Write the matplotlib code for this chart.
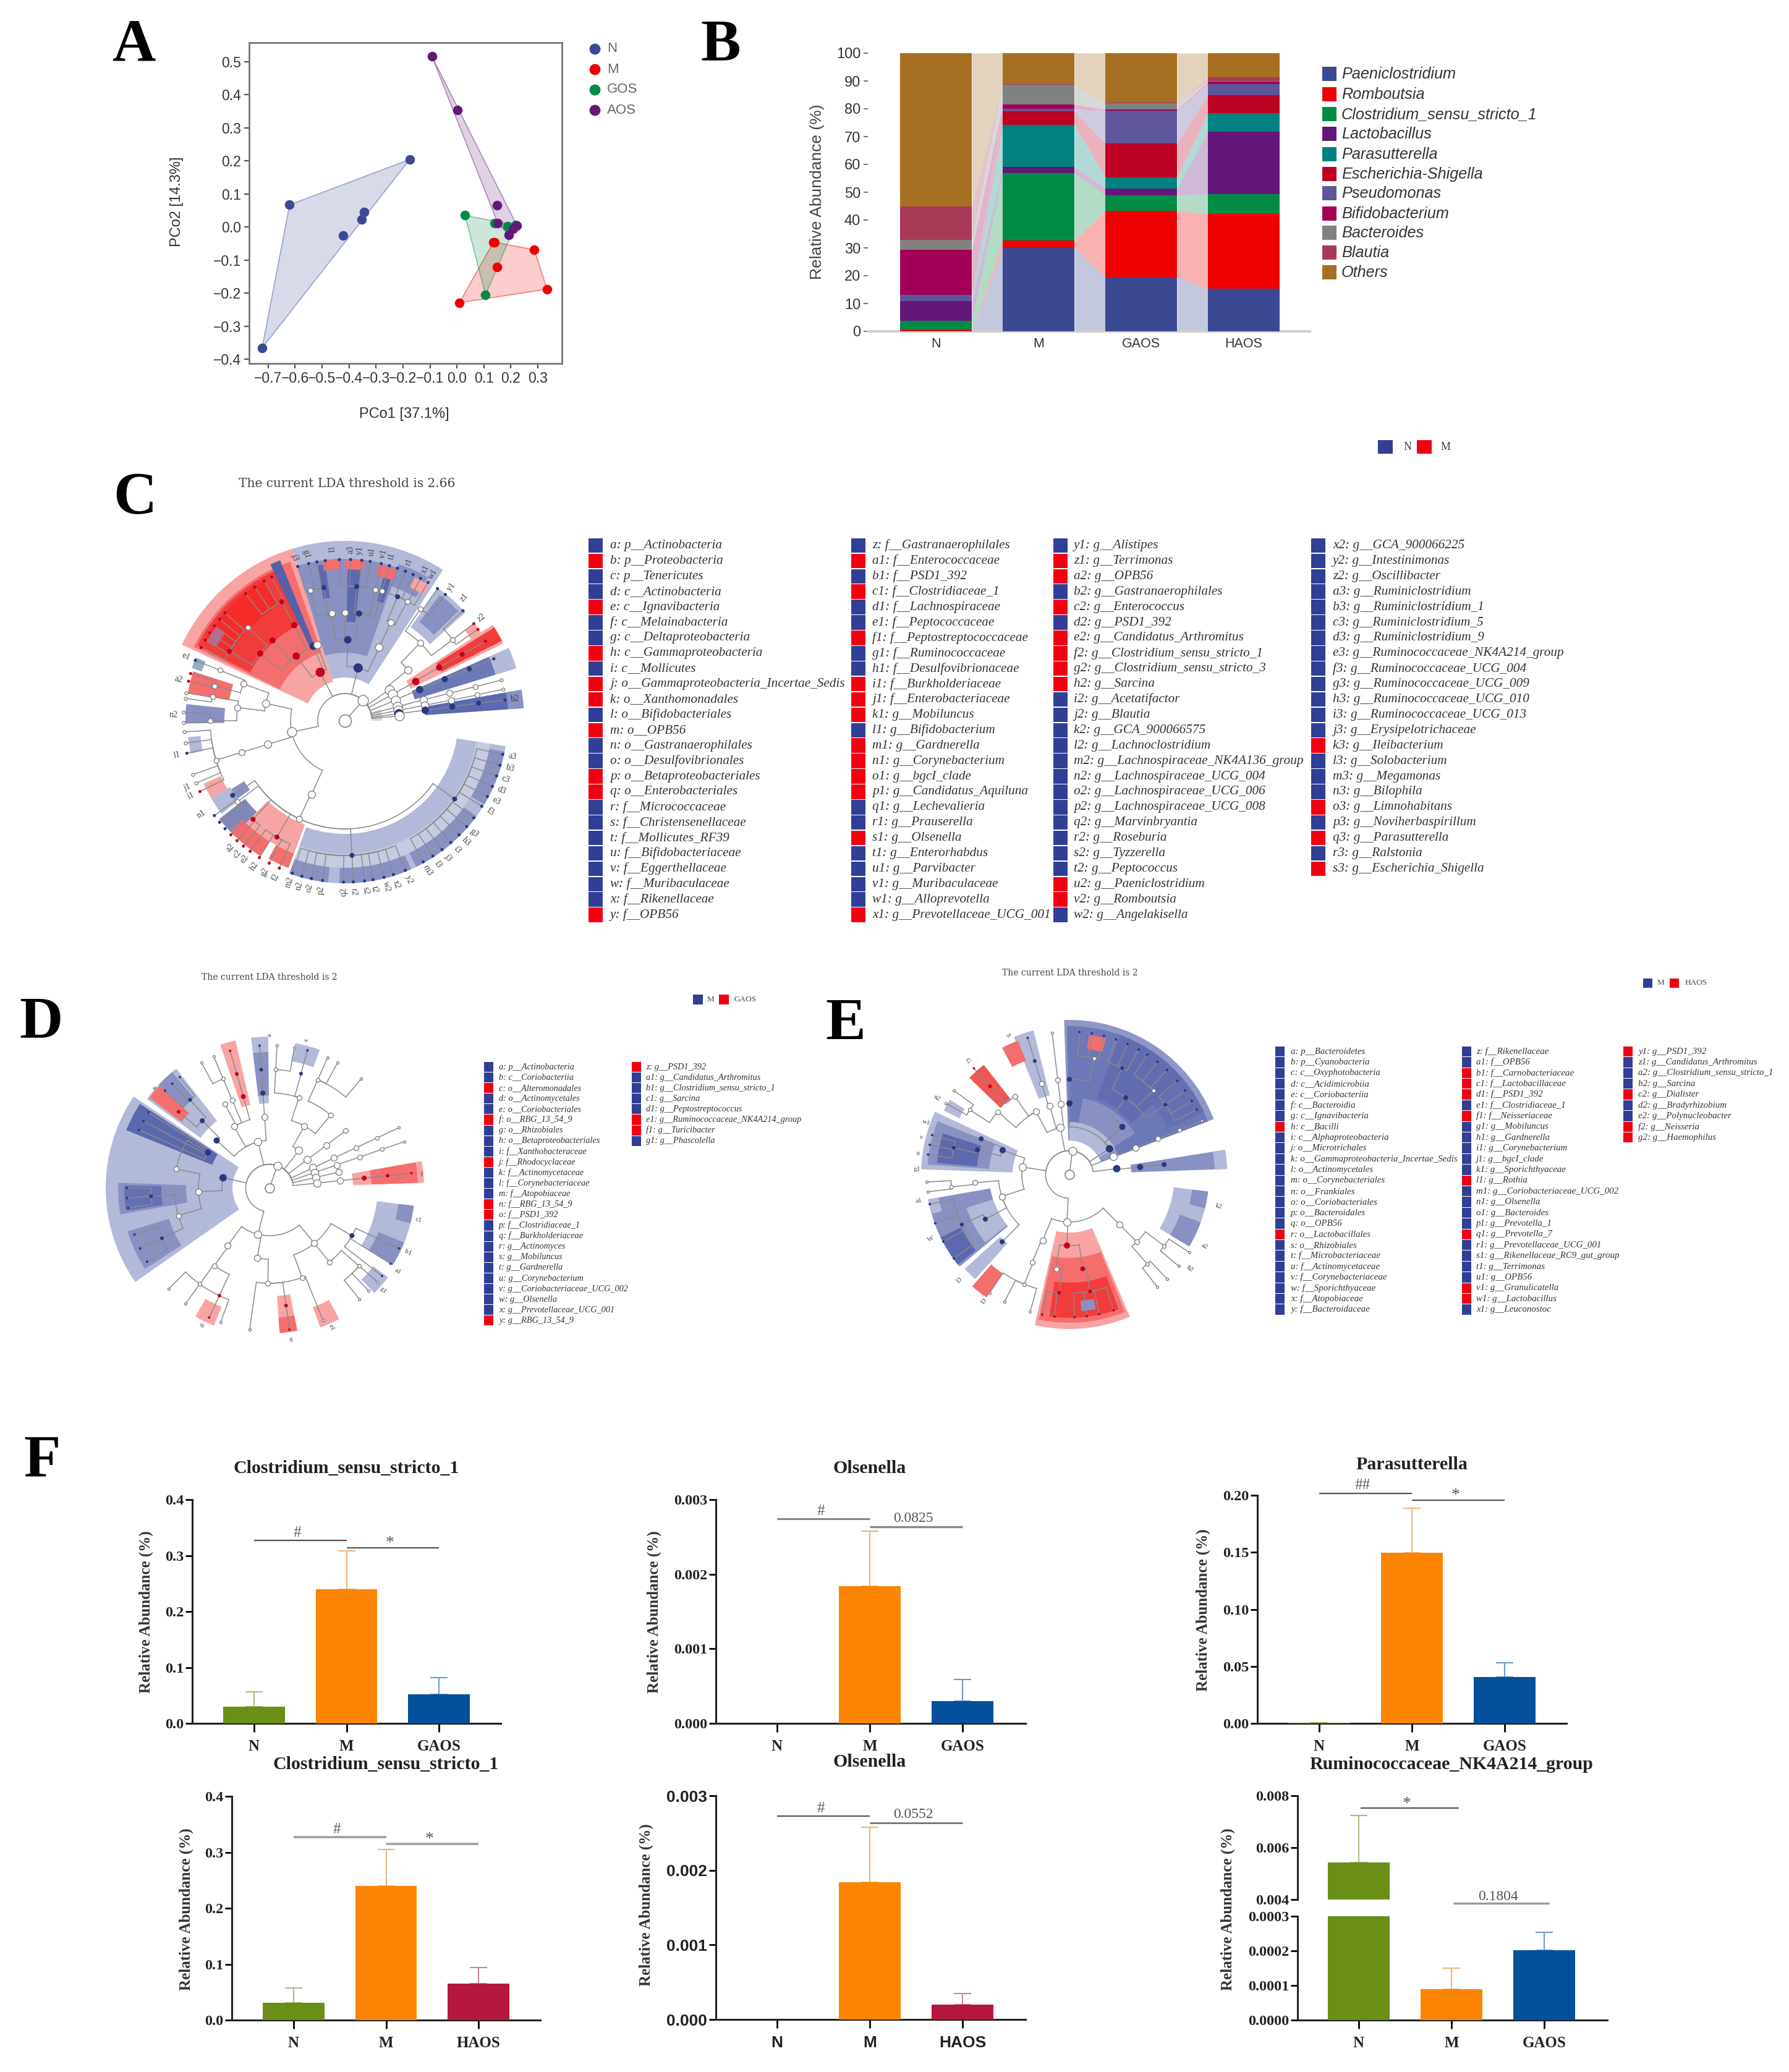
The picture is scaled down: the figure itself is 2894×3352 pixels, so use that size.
import numpy as np
import matplotlib
matplotlib.use('Agg')
import matplotlib.pyplot as plt
from matplotlib.patches import Wedge, Rectangle

W, H = 2894, 3352
SANS = 'Liberation Sans'
SERIF = 'Liberation Serif'

# ---- panel A
pco_groups = ['N', 'M', 'GOS', 'AOS']
pco_colors = ['#3B4992', '#EE0000', '#008B45', '#631879']
pco_x = [[-0.175, -0.62, -0.345, -0.352, -0.422, -0.722],
         [0.135, 0.139, 0.287, 0.149, 0.334, 0.009],
         [0.03, 0.187, 0.217, 0.139, 0.106],
         [-0.093, 0.002, 0.149, 0.151, 0.209, 0.192, 0.222]]
pco_y = [[0.204, 0.067, 0.045, 0.023, -0.026, -0.366],
         [-0.046, -0.046, -0.069, -0.121, -0.188, -0.229],
         [0.035, 0.002, 0.006, 0.012, -0.205],
         [0.516, 0.353, 0.065, 0.012, -0.006, -0.024, 0.005]]

# ---- panel B
stack_groups = ['N', 'M', 'GAOS', 'HAOS']
genera = ['Paeniclostridium', 'Romboutsia', 'Clostridium_sensu_stricto_1', 'Lactobacillus',
          'Parasutterella', 'Escherichia-Shigella', 'Pseudomonas', 'Bifidobacterium',
          'Bacteroides', 'Blautia', 'Others']
genus_colors = ['#3B4992', '#EE0000', '#008B45', '#631879', '#008280', '#BB0021',
                '#5F559B', '#A20056', '#808180', '#A93A57', '#A66F22']
stack_n = [0.1, 0.4, 3.3, 7.1, 0.0, 0.0, 2.3, 16.1, 3.5, 12.1, 55.1]
stack_m = [30.0, 2.7, 24.2, 2.2, 15.1, 4.9, 0.9, 1.5, 7.2, 0.1, 11.3]
stack_g = [19.4, 24.0, 5.5, 2.5, 4.0, 12.1, 11.9, 0.4, 2.3, 0.1, 17.8]
stack_h = [15.4, 26.8, 7.2, 22.3, 6.8, 6.4, 4.0, 0.8, 0.3, 1.4, 8.6]

# ---- LEfSe legends
c_col1 = ['a: p__Actinobacteria', 'b: p__Proteobacteria', 'c: p__Tenericutes', 'd: c__Actinobacteria',
          'e: c__Ignavibacteria', 'f: c__Melainabacteria', 'g: c__Deltaproteobacteria',
          'h: c__Gammaproteobacteria', 'i: c__Mollicutes', 'j: o__Gammaproteobacteria_Incertae_Sedis',
          'k: o__Xanthomonadales', 'l: o__Bifidobacteriales', 'm: o__OPB56', 'n: o__Gastranaerophilales',
          'o: o__Desulfovibrionales', 'p: o__Betaproteobacteriales', 'q: o__Enterobacteriales',
          'r: f__Micrococcaceae', 's: f__Christensenellaceae', 't: f__Mollicutes_RF39',
          'u: f__Bifidobacteriaceae', 'v: f__Eggerthellaceae', 'w: f__Muribaculaceae',
          'x: f__Rikenellaceae', 'y: f__OPB56']
c_flags1 = 'brbbrbbrbrrbrbbrrbbbbbbbr'
c_col2 = ['z: f__Gastranaerophilales', 'a1: f__Enterococcaceae', 'b1: f__PSD1_392', 'c1: f__Clostridiaceae_1',
          'd1: f__Lachnospiraceae', 'e1: f__Peptococcaceae', 'f1: f__Peptostreptococcaceae',
          'g1: f__Ruminococcaceae', 'h1: f__Desulfovibrionaceae', 'i1: f__Burkholderiaceae',
          'j1: f__Enterobacteriaceae', 'k1: g__Mobiluncus', 'l1: g__Bifidobacterium', 'm1: g__Gardnerella',
          'n1: g__Corynebacterium', 'o1: g__bgcI_clade', 'p1: g__Candidatus_Aquiluna', 'q1: g__Lechevalieria',
          'r1: g__Prauserella', 's1: g__Olsenella', 't1: g__Enterorhabdus', 'u1: g__Parvibacter',
          'v1: g__Muribaculaceae', 'w1: g__Alloprevotella', 'x1: g__Prevotellaceae_UCG_001']
c_flags2 = 'brbrbbrbbrrrbrrrrbbrbbbbr'
c_col3 = ['y1: g__Alistipes', 'z1: g__Terrimonas', 'a2: g__OPB56', 'b2: g__Gastranaerophilales',
          'c2: g__Enterococcus', 'd2: g__PSD1_392', 'e2: g__Candidatus_Arthromitus',
          'f2: g__Clostridium_sensu_stricto_1', 'g2: g__Clostridium_sensu_stricto_3', 'h2: g__Sarcina',
          'i2: g__Acetatifactor', 'j2: g__Blautia', 'k2: g__GCA_900066575', 'l2: g__Lachnoclostridium',
          'm2: g__Lachnospiraceae_NK4A136_group', 'n2: g__Lachnospiraceae_UCG_004',
          'o2: g__Lachnospiraceae_UCG_006', 'p2: g__Lachnospiraceae_UCG_008', 'q2: g__Marvinbryantia',
          'r2: g__Roseburia', 's2: g__Tyzzerella', 't2: g__Peptococcus', 'u2: g__Paeniclostridium',
          'v2: g__Romboutsia', 'w2: g__Angelakisella']
c_flags3 = 'brrbrbrrrrbbbbbbbbbbbbrrb'
c_col4 = ['x2: g__GCA_900066225', 'y2: g__Intestinimonas', 'z2: g__Oscillibacter', 'a3: g__Ruminiclostridium',
          'b3: g__Ruminiclostridium_1', 'c3: g__Ruminiclostridium_5', 'd3: g__Ruminiclostridium_9',
          'e3: g__Ruminococcaceae_NK4A214_group', 'f3: g__Ruminococcaceae_UCG_004',
          'g3: g__Ruminococcaceae_UCG_009', 'h3: g__Ruminococcaceae_UCG_010', 'i3: g__Ruminococcaceae_UCG_013',
          'j3: g__Erysipelotrichaceae', 'k3: g__Ileibacterium', 'l3: g__Solobacterium', 'm3: g__Megamonas',
          'n3: g__Bilophila', 'o3: g__Limnohabitans', 'p3: g__Noviherbaspirillum', 'q3: g__Parasutterella',
          'r3: g__Ralstonia', 's3: g__Escherichia_Shigella']
c_flags4 = 'bbbbbbbbbbbbbrbbbrbrbr'

d_col1 = ['a: p__Actinobacteria', 'b: c__Coriobacteriia', 'c: o__Alteromonadales', 'd: o__Actinomycetales',
          'e: o__Coriobacteriales', 'f: o__RBG_13_54_9', 'g: o__Rhizobiales', 'h: o__Betaproteobacteriales',
          'i: f__Xanthobacteraceae', 'j: f__Rhodocyclaceae', 'k: f__Actinomycetaceae',
          'l: f__Corynebacteriaceae', 'm: f__Atopobiaceae', 'n: f__RBG_13_54_9', 'o: f__PSD1_392',
          'p: f__Clostridiaceae_1', 'q: f__Burkholderiaceae', 'r: g__Actinomyces', 's: g__Mobiluncus',
          't: g__Gardnerella', 'u: g__Corynebacterium', 'v: g__Coriobacteriaceae_UCG_002', 'w: g__Olsenella',
          'x: g__Prevotellaceae_UCG_001', 'y: g__RBG_13_54_9']
d_flags1 = 'bbrbbrbbbrbbbrrbbbbbbbbbr'
d_col2 = ['z: g__PSD1_392', 'a1: g__Candidatus_Arthromitus', 'b1: g__Clostridium_sensu_stricto_1',
          'c1: g__Sarcina', 'd1: g__Peptostreptococcus', 'e1: g__Ruminococcaceae_NK4A214_group',
          'f1: g__Turicibacter', 'g1: g__Phascolella']
d_flags2 = 'rbbbbrrb'

e_col1 = ['a: p__Bacteroidetes', 'b: p__Cyanobacteria', 'c: c__Oxyphotobacteria', 'd: c__Acidimicrobiia',
          'e: c__Coriobacteriia', 'f: c__Bacteroidia', 'g: c__Ignavibacteria', 'h: c__Bacilli',
          'i: c__Alphaproteobacteria', 'j: o__Microtrichales', 'k: o__Gammaproteobacteria_Incertae_Sedis',
          'l: o__Actinomycetales', 'm: o__Corynebacteriales', 'n: o__Frankiales', 'o: o__Coriobacteriales',
          'p: o__Bacteroidales', 'q: o__OPB56', 'r: o__Lactobacillales', 's: o__Rhizobiales',
          't: f__Microbacteriaceae', 'u: f__Actinomycetaceae', 'v: f__Corynebacteriaceae',
          'w: f__Sporichthyaceae', 'x: f__Atopobiaceae', 'y: f__Bacteroidaceae']
e_flags1 = 'bbbbbbbrbbbbbbbbbrbbbbbbb'
e_col2 = ['z: f__Rikenellaceae', 'a1: f__OPB56', 'b1: f__Carnobacteriaceae', 'c1: f__Lactobacillaceae',
          'd1: f__PSD1_392', 'e1: f__Clostridiaceae_1', 'f1: f__Neisseriaceae', 'g1: g__Mobiluncus',
          'h1: g__Gardnerella', 'i1: g__Corynebacterium', 'j1: g__bgcI_clade', 'k1: g__Sporichthyaceae',
          'l1: g__Rothia', 'm1: g__Coriobacteriaceae_UCG_002', 'n1: g__Olsenella', 'o1: g__Bacteroides',
          'p1: g__Prevotella_1', 'q1: g__Prevotella_7', 'r1: g__Prevotellaceae_UCG_001',
          's1: g__Rikenellaceae_RC9_gut_group', 't1: g__Terrimonas', 'u1: g__OPB56',
          'v1: g__Granulicatella', 'w1: g__Lactobacillus', 'x1: g__Leuconostoc']
e_flags2 = 'bbrrrbrbbbbbrbbbbrbbbbrrb'
e_col3 = ['y1: g__PSD1_392', 'z1: g__Candidatus_Arthromitus', 'a2: g__Clostridium_sensu_stricto_1',
          'b2: g__Sarcina', 'c2: g__Dialister', 'd2: g__Bradyrhizobium', 'e2: g__Polynucleobacter',
          'f2: g__Neisseria', 'g2: g__Haemophilus']
e_flags3 = 'rbbbrbbrr'

# ---- cladograms: shaded clades (theta1, theta2, r0, r1, colour)
RL, RM, RD = '#F8A4A4', '#F46E6E', '#F23C3C'
BL, BM, BD = '#B3B9D8', '#8991C3', '#5D69AE'

c_shades = [
    (107, 155, 66, 291, RL), (109, 154, 117, 272, RM), (113, 153, 172, 268, RD), (120, 150, 215, 262, '#F72A2A'),
    (144, 150, 240, 258, '#B86A8A'), (112, 115.5, 130, 280, '#5560A8'),
    (57, 107, 70, 291, BL), (71, 107, 110, 262, BM), (60, 71, 230, 268, BM), (84, 89, 160, 260, BD),
    (97, 100, 200, 255, BD), (72, 75, 200, 255, BD), (92, 98, 245, 262, RM), (83, 90, 245, 262, RM),
    (71, 78, 240, 258, RM), (58, 64, 240, 258, RL),
    (42, 55, 185, 262, BL), (44, 53, 200, 255, BM), (26, 33, 118, 285, RL), (27, 32, 175, 285, RD),
    (33, 37, 243, 262, RL), (17, 24, 118, 255, '#6D78B8'), (17, 24, 255, 290, BL), (4, 10, 130, 265, BD),
    (4, 10, 265, 290, BM), (0, 18, 42, 60, '#D8D8D8'),
    (157, 161, 245, 262, '#8FB0C0'), (162, 170, 190, 258, RM), (174, 181, 195, 258, BM), (186, 192, 235, 255, BL),
    (204, 210, 220, 250, RL), (210, 217, 215, 250, BL), (211, 216, 190, 215, BM), (218, 226, 205, 258, '#7E88BF'),
    (226, 249, 180, 230, RL), (224, 238, 230, 258, RM), (241, 249, 230, 255, RM),
    (250, 351, 183, 263, BL), (250, 351, 215, 238, '#C6CBE2'), (250, 264, 238, 263, BM), (268, 294, 238, 263, BM),
    (296, 324, 238, 263, BM), (329, 349, 238, 263, BM),
]
d_shades = [
    (146, 215, 60, 265, BL), (147, 158, 100, 250, '#5C68AE'), (178, 190, 135, 245, BM), (179, 189, 175, 235, '#6570B2'),
    (197, 213, 170, 240, BM), (128, 144, 138, 245, BL), (130, 137, 190, 245, BM), (137, 143, 178, 243, RM),
    (103, 109, 138, 245, RL), (90.5, 97, 137, 245, BL), (90.5, 97, 150, 220, BM), (70, 80, 208, 238, BL),
    (2, 10, 135, 250, RL), (2, 10, 165, 240, RM), (-32, -7, 175, 235, BL), (-14, -7, 210, 235, BM),
    (-32, -22, 190, 235, BM), (-45, -37, 210, 240, BL), (-70, -62, 205, 240, RL), (-86, -79, 175, 235, RL),
    (-86, -79, 210, 235, RM), (240, 248, 207, 240, RL),
]
e_shades = [
    (21, 92, 55, 250, '#8F97C6'), (21, 91, 85, 240, '#6D78B8'), (30, 90, 55, 85, BL), (32, 80, 85, 125, BM),
    (75, 82, 205, 228, RM), (40, 70, 130, 240, '#626DB1'), (25, 40, 175, 240, '#6570B4'), (2, 9, 100, 255, BM), (2, 9, 235, 255, BL),
    (155, 178, 92, 240, BL), (158, 176, 130, 230, BM), (162, 175, 150, 215, BD),
    (190, 220, 130, 232, BM), (198, 219, 130, 175, BL), (190, 196, 215, 232, BL), (206, 219, 195, 232, BD),
    (222, 228, 150, 228, BL), (229, 236, 193, 240, RM), (257, 293, 94, 250, RL), (258, 292, 135, 240, RM),
    (262, 290, 175, 232, RD), (275, 281, 205, 222, BM), (104, 112, 132, 240, BL), (111, 118, 197, 232, RM),
    (128, 136, 155, 225, '#EE5555'), (148, 153, 200, 228, BL), (-31, -7, 170, 226, BL), (-14, -7, 200, 226, BM),
    (-31, -20, 190, 226, BM),
]

# ---- cladograms: tree nodes (id, parent, theta, level, colour)
c_levels = [0, 44, 88, 131, 175, 218, 261]
c_nodes = [
    ('a', 'root', 48, 1, 'w'),
    ('n0', 'a', 35, 2, 'w'), ('n1', 'n0', 39, 3, 'w'), ('n2', 'n1', 46, 4, 'w'), ('n3', 'n2', 37, 5, 'w'), ('n4', 'n2', 56, 5, 'w'),
    ('red', 'a', 117, 2, 'r'), ('blue', 'a', 76, 2, 'b'), ('back', 'a', 192, 2, 'w'),
    ('red3', 'red', 127, 3, 'r'), ('red4', 'red3', 141.6, 4, 'r'), ('red5', 'red4', 149, 5, 'r'),
    ('rr3', 'red', 113, 3, 'b'), ('rw3', 'red', 110, 3, 'w'), ('rr4', 'red3', 118, 4, 'r'), ('rr5', 'rr4', 118, 5, 'r'),
    ('rw4', 'red3', 132, 4, 'r'), ('rw5', 'red4', 136, 5, 'w'),
    ('bl3', 'blue', 88, 3, 'b'), ('bl4', 'bl3', 82.5, 4, 'b'), ('bl5', 'bl4', 85, 5, 'b'),
    ('bw4', 'bl3', 97, 4, 'w'), ('bw5', 'bw4', 99, 5, 'b'), ('bx4', 'bl3', 90, 4, 'w'), ('bx5', 'bw4', 105, 5, 'w'),
    ('bw3', 'blue', 65, 3, 'w'), ('by4', 'bw3', 65, 4, 'w'), ('by5', 'by4', 62.5, 5, 'w'), ('bz5', 'by4', 67, 5, 'b'),
    ('bq5', 'bl4', 77, 5, 'w'), ('bp5', 'bl4', 74, 5, 'w'),
    ('f29', 'a', 29, 2, 'w'), ('f29b', 'f29', 29, 3, 'r'), ('f29c', 'f29b', 29.5, 4, 'r'), ('f29d', 'f29c', 29.5, 5, 'r'),
    ('f22', 'a', 22, 2, 'w'), ('f22b', 'f22', 22.6, 3, 'b'), ('f22c', 'f22b', 22.6, 4, 'b'), ('f22d', 'f22c', 22.6, 5, 'b'),
    ('f15', 'a', 15, 2, 'w'), ('f15b', 'f15', 15, 3, 'w'), ('f15c', 'f15b', 14.8, 4, 'w'), ('f15d', 'f15c', 14.7, 5, 'w'),
    ('f11', 'a', 11, 2, 'w'), ('f11b', 'f11', 11, 3, 'w'), ('f11c', 'f11b', 11, 4, 'w'), ('f11d', 'f11c', 11, 5, 'w'),
    ('f8', 'a', 7.5, 2, 'b'), ('f8b', 'f8', 7.5, 3, 'b'), ('f8c', 'f8b', 7.5, 4, 'b'), ('f8d', 'f8c', 7.5, 5, 'b'),
    ('f5', 'a', 5, 2, 'w'),
    ('b1', 'back', 167.6, 3, 'w'), ('b2', 'back', 197, 3, 'w'), ('b3', 'back', 245.6, 3, 'w'),
    ('b11', 'b1', 173, 4, 'w'), ('b12', 'b1', 160, 4, 'w'), ('b111', 'b11', 169.6, 5, 'w'), ('b112', 'b11', 180, 5, 'w'),
    ('b121', 'b12', 158, 5, 'w'), ('b122', 'b12', 165, 5, 'w'), ('b21', 'b2', 197, 4, 'w'), ('b211', 'b21', 197, 5, 'w'),
    ('b31', 'b3', 245, 4, 'w'), ('c1', 'b31', 217, 5, 'w'), ('c2', 'b31', 213.6, 5, 'b'), ('c3', 'b31', 227, 5, 'r'),
    ('c4', 'b31', 239.7, 5, 'r'), ('c5', 'b31', 273, 5, 'b'), ('c6', 'b31', 324.5, 5, 'b'),
]
# leaves on the last level (parent, thetas, colour)
c_leaves = [
    ('c6', [348, 344, 340, 336, 332, 328, 323, 319, 315, 311, 307, 303, 299], 'b'),
    ('c5', [292, 287.5, 284, 280, 277, 273, 269.5, 262, 258, 254.5, 251], 'b'),
    ('c4', [246, 242, 238, 234], 'r'), ('c3', [231, 228, 225], 'r'), ('c2', [222, 219, 216], 'b'),
    ('b111', [170, 172], 'w'), ('b112', [180.6, 177], 'w'), ('b122', [165.8, 163], 'r'), ('b121', [158], 'b'),
    ('b211', [184, 188, 199.5, 202.7], 'w'), ('b211', [191.6], 'b'), ('b211', [206], 'r'),
    ('red5', [153, 150, 147, 144, 141, 138], 'r'), ('rr5', [128, 124, 120, 117], 'r'),
    ('bl5', [92, 88, 84, 81, 77, 74], 'b'), ('bw5', [107, 103, 100, 97], 'b'), ('bz5', [71, 68, 65, 62, 59], 'b'),
    ('n3', [37, 34.5], 'r'), ('n3', [43], 'b'), ('n4', [51.5, 55], 'b'), ('f29d', [29.5], 'r'),
    ('f22d', [22.6], 'b'), ('f15d', [14.6], 'w'), ('f11d', [11.2], 'w'), ('f8d', [7.4], 'b'),
]
c_labels = [(348, 'a3'), (344, 'b3'), (340, 'c3'), (336, 'd3'), (332, 'e3'), (328, 'f3'), (319, 'g3'), (315, 'h3'),
            (311, 'i3'), (307, 'j3'), (303, 'l3'), (299, 'm3'), (292, 'y2'), (287.5, 'x2'), (284, 'w2'), (280, 't2'),
            (277, 's2'), (273, 'r2'), (269.5, 'q2'), (262, 'p2'), (258, 'o2'), (254.5, 'n2'), (251, 'm2'),
            (246, 'f2'), (242, 'g2'), (238, 'h2'), (234, 'e2'), (231, 'c2'), (228, 'a2'), (213, 'n1'),
            (206, 'i1'), (203, 'j1'), (191.6, 'l1'), (178, 'n2'), (166, 'a2'), (158, 'e1'),
            (107, 'j3'), (103, 'g1'), (95, 'l1'), (88, 'a3'), (85, 'y1'), (81, 'u1'), (77, 'v1'), (74, 't1'),
            (68, 'r1'), (62, 'x1'), (59, 'w1'), (51.5, 'y1'), (46, 'z1'), (37, 'z2'), (7.4, 'b2')]

d_levels = [0, 38.5, 77, 115, 154, 192, 231]
d_nodes = [
    ('a', 'root', 71, 1, 'w'),
    ('u', 'a', 104, 2, 'w'), ('v', 'a', 52, 2, 'w'), ('l', 'a', 256, 2, 'w'), ('dk', 'a', 167.5, 2, 'b'),
    ('u1', 'u', 120, 3, 'w'), ('u2', 'u', 94, 3, 'w'), ('u3', 'u2', 94, 4, 'b'), ('u4', 'u3', 94, 5, 'b'),
    ('u5', 'u1', 106, 4, 'r'), ('u6', 'u5', 106, 5, 'r'), ('u7', 'u1', 118, 4, 'w'), ('u8', 'u1', 113, 4, 'w'), ('u9', 'u8', 113, 5, 'w'),
    ('v1', 'v', 60.6, 3, 'w'), ('v2', 'v1', 72, 4, 'w'), ('v3', 'v2', 87, 5, 'w'), ('v4', 'v2', 74.6, 5, 'b'), ('v5', 'v1', 50, 4, 'w'), ('v6', 'v5', 66, 5, 'w'),
    ('g1', 'a', 37, 2, 'w'), ('g2', 'g1', 37, 3, 'w'), ('g3', 'g2', 37, 4, 'w'),
    ('g4', 'a', 25, 2, 'w'), ('g5', 'g4', 25, 3, 'w'), ('g6', 'g5', 25, 4, 'w'), ('g7', 'g6', 25, 5, 'w'),
    ('h4', 'a', 19, 2, 'w'), ('h5', 'h4', 19, 3, 'w'), ('h6', 'h5', 19, 4, 'w'), ('h7', 'h6', 19, 5, 'w'),
    ('i4', 'a', 13, 2, 'w'), ('i5', 'i4', 13, 3, 'w'),
    ('j4', 'a', 6, 2, 'w'), ('j5', 'j4', 6, 3, 'w'), ('j6', 'j5', 6, 4, 'r'), ('j7', 'j6', 6, 5, 'r'),
    ('k1', 'dk', 183, 3, 'w'), ('k2', 'k1', 168.5, 4, 'w'), ('k3', 'k1', 196.8, 4, 'w'), ('k4', 'k2', 150, 3, 'b'), ('k5', 'k3', 184, 5, 'b'), ('k6', 'k3', 205, 5, 'b'),
    ('w1', 'u', 138, 3, 'b'), ('w2', 'w1', 135, 4, 'b'), ('w3', 'w2', 140, 5, 'r'), ('w4', 'w2', 132, 5, 'b'),
    ('l1', 'l', 309, 3, 'w'), ('l2', 'l', 260, 3, 'w'), ('l3', 'l', 234, 3, 'w'),
    ('l11', 'l1', 309, 4, 'w'), ('l12', 'l1', 290, 4, 'w'), ('l13', 'l1', 330, 4, 'b'),
    ('l14', 'l11', 319, 5, 'w'), ('l21', 'l2', 269, 4, 'w'), ('l22', 'l21', 278, 5, 'r'), ('l31', 'l3', 234.6, 4, 'w'), ('l32', 'l31', 234, 5, 'w'),
    ('l33', 'l31', 245, 5, 'r'),
]
d_leaves = [
    ('w4', [129, 133, 137], 'b'), ('k4', [148, 152, 156], 'b'), ('u9', [113, 118.5], 'w'), ('u6', [106], 'r'), ('u4', [94], 'b'),
    ('v3', [87, 80], 'w'), ('v4', [74.6], 'b'), ('v6', [66, 61.5, 50], 'w'), ('g7', [25], 'w'), ('h7', [19], 'w'), ('j7', [6], 'r'),
    ('k5', [180, 184, 188], 'b'), ('k6', [199, 205, 211], 'b'), ('l13', [335, 328, 322], 'b'), ('l14', [319, 314, 309], 'w'),
    ('l22', [278], 'r'), ('l21', [292, 262], 'w'), ('l32', [250, 234, 225], 'w'), ('l33', [245], 'r'),
]
d_labels = [(139, 'a'), (90, 'a'), (76, 'x'), (5, 'f'), (-12, 'c1'), (-25, 'b1'), (-33, 'a1'), (-42, 'g1'), (-66, 'e1'), (-82, 'w'), (244, 'd')]

e_levels = [0, 38.5, 77, 115, 154, 192, 231]
e_nodes = [
    ('a', 'root', 83, 1, 'w'),
    ('b', 'a', 101, 2, 'w'), ('c', 'a', 171, 2, 'w'), ('d', 'a', 267, 2, 'w'), ('e', 'a', 32.7, 2, 'b'),
    ('e1', 'e', 42, 3, 'b'), ('e2', 'e1', 53.7, 4, 'b'), ('e3', 'e', 90, 3, 'b'), ('e4', 'e3', 90, 4, 'b'), ('e5', 'e2', 36, 5, 'b'),
    ('e6', 'e2', 63.6, 5, 'b'), ('e7', 'e4', 78, 5, 'w'), ('e8', 'e2', 45, 5, 'w'),
    ('f', 'b', 118, 3, 'w'), ('f2', 'b', 106, 3, 'w'), ('f3', 'f2', 107, 4, 'w'), ('f4', 'f3', 107, 5, 'b'), ('f5', 'b', 97, 3, 'w'), ('f6', 'f5', 97, 4, 'w'),
    ('h', 'f', 138.8, 4, 'w'), ('i', 'h', 147, 5, 'w'), ('h2', 'f', 125, 4, 'w'), ('h3', 'h2', 132, 5, 'r'),
    ('g', 'c', 198, 3, 'w'), ('g2', 'c', 160, 3, 'b'), ('g3', 'g2', 165, 4, 'b'), ('g4', 'g3', 167, 5, 'b'), ('g5', 'g2', 158, 4, 'b'),
    ('g6', 'g', 185, 4, 'w'), ('g7', 'g6', 186, 5, 'w'), ('g8', 'g', 208, 4, 'b'), ('g9', 'g8', 205, 5, 'b'), ('g10', 'g', 225, 4, 'b'),
    ('j', 'd', 315, 3, 'w'), ('k', 'j', 315, 4, 'w'), ('k1', 'k', 323, 5, 'w'), ('k2', 'k', 311, 5, 'w'),
    ('l', 'd', 248, 3, 'w'), ('m', 'l', 247, 4, 'w'), ('n', 'm', 247.6, 5, 'w'),
    ('o', 'd', 268, 3, 'r'), ('p', 'o', 278, 4, 'r'), ('p2', 'o', 262, 4, 'w'), ('q', 'p', 280, 5, 'r'), ('q2', 'p2', 265, 5, 'r'),
    ('s', 'a', 22, 2, 'w'), ('s1', 's', 22, 3, 'w'), ('s2', 's1', 22, 4, 'w'), ('s3', 's2', 22, 5, 'w'),
    ('t', 'a', 7, 2, 'b'), ('t1', 't', 6, 3, 'b'), ('t2', 't1', 6, 4, 'b'),
]
e_leaves = [
    ('e7', [86, 81, 76], 'b'), ('e6', [71, 66, 61], 'b'), ('e8', [57, 52, 47], 'b'), ('e5', [41, 36, 31, 27], 'b'),
    ('f4', [107], 'b'), ('f6', [97], 'w'), ('h3', [132], 'r'), ('i', [150, 144], 'w'), ('g4', [172, 168, 164], 'b'),
    ('g7', [187, 183], 'w'), ('g9', [192, 200, 208, 216], 'b'), ('k1', [327, 320], 'w'), ('k2', [313, 308], 'w'),
    ('n', [254, 243, 236], 'w'), ('q', [282, 277, 272, 288], 'r'), ('q2', [264, 259], 'r'), ('s3', [22], 'w'),
]
e_labels = [(172, 'u'), (166, 'v'), (160, 'w1'), (178, 'g1'), (190, 'a1'), (205, 'W'), (224, 'D'), (236, 'D'), (132, 'G'), (114, 'S'),
            (150, 'n2'), (-12, 'k2'), (-28, 'a2'), (-38, 'h2')]

# ---- panel F
bar_colors = {'N': '#6B8E17', 'M': '#FB8500', 'GAOS': '#05509A', 'HAOS': '#B5173F'}
err_colors = {'N': '#A9BC7C', 'M': '#EFB27A', 'GAOS': '#6F97C6', 'HAOS': '#D27F96'}
cats_g = ['N', 'M', 'GAOS']
cats_h = ['N', 'M', 'HAOS']
f1_vals, f1_tops = [0.03, 0.24, 0.052], [0.056, 0.308, 0.082]
f2_vals, f2_tops = [0.0, 0.00184, 0.0003], [0.0, 0.00258, 0.00059]
f3_vals, f3_tops = [0.0003, 0.1496, 0.0406], [0.0003, 0.1884, 0.0529]
f4_vals, f4_tops = [0.0314, 0.2396, 0.065], [0.057, 0.305, 0.094]
f5_vals, f5_tops = [0.0, 0.00184, 0.0002], [0.0, 0.00258, 0.00035]
f6_vals, f6_tops = [0.00543, 0.00009, 0.000202], [0.00723, 0.00015, 0.000254]

fig = plt.figure(figsize=(W / 100, H / 100), dpi=100)


def px_axes(left, top, right, bottom):
    return fig.add_axes([left / W, 1 - bottom / H, (right - left) / W, (bottom - top) / H])


# transparent overlay in reference pixels, for letters and legend blocks
ov = fig.add_axes([0, 0, 1, 1], zorder=20)
ov.set_xlim(0, W)
ov.set_ylim(H, 0)
ov.axis('off')
ov.patch.set_alpha(0)

for letter, x, y in [('A', 182, 97), ('B', 1133, 98), ('C', 183, 831), ('D', 31, 1679), ('E', 1335, 1682), ('F', 38, 2388)]:
    ov.text(x, y, letter, family=SERIF, weight='bold', fontsize=70, ha='left', va='baseline', color='black')


def convex_hull(xs, ys):
    pts = sorted(zip(xs, ys))

    def half(points):
        out = []
        for p in points:
            while len(out) > 1 and (out[-1][0] - out[-2][0]) * (p[1] - out[-2][1]) - (out[-1][1] - out[-2][1]) * (p[0] - out[-2][0]) <= 0:
                out.pop()
            out.append(p)
        return out[:-1]
    return np.array(half(pts) + half(pts[::-1]))


# panel A
ax = px_axes(403, 69, 909, 588)
for gx, gy, col in zip(pco_x, pco_y, pco_colors):
    hull = convex_hull(gx, gy)
    ax.fill(hull[:, 0], hull[:, 1], facecolor=col, alpha=0.2, edgecolor='none')
    ax.fill(hull[:, 0], hull[:, 1], facecolor='none', edgecolor=col, alpha=0.45, lw=1.2)
    ax.scatter(gx, gy, s=125, color=col, zorder=3, linewidths=0)
ax.set_xlim(-0.77, 0.389)
ax.set_ylim(-0.4125, 0.557)
ax.set_xticks([-0.7, -0.6, -0.5, -0.4, -0.3, -0.2, -0.1, 0.0, 0.1, 0.2, 0.3])
ax.set_yticks([-0.4, -0.3, -0.2, -0.1, 0.0, 0.1, 0.2, 0.3, 0.4, 0.5])
ax.tick_params(labelsize=16.5, labelcolor='#333333', color='#555555', width=1.6, length=6)
for lab in ax.get_xticklabels() + ax.get_yticklabels():
    lab.set_family(SANS)
for sp in ax.spines.values():
    sp.set_color('#777777')
    sp.set_linewidth(2)
ov.text(654, 670, 'PCo1 [37.1%]', family=SANS, fontsize=17, color='#333333', ha='center', va='center')
ov.text(286, 326, 'PCo2 [14.3%]', family=SANS, fontsize=17, color='#333333', ha='center', va='center', rotation=90)
for name, col, y in zip(pco_groups, pco_colors, [79, 112, 145, 178]):
    ov.scatter([962], [y], s=165, color=col, linewidths=0)
    ov.text(982, y, name, family=SANS, fontsize=16, color='#666666', va='center')

# panel B
ax = px_axes(1404, 86, 2119, 536)
stack = np.array([stack_n, stack_m, stack_g, stack_h])
tops = stack.cumsum(axis=1)
bots = tops - stack
for j, col in enumerate(genus_colors):
    ax.bar(range(4), stack[:, j], bottom=bots[:, j], width=0.7, color=col, linewidth=0, zorder=3)
    for i in range(3):
        ax.fill_between([i + 0.35, i + 0.65], [bots[i, j], bots[i + 1, j]], [tops[i, j], tops[i + 1, j]],
                        color=col, alpha=0.3, linewidth=0)
ax.set_xlim(-0.663, 3.645)
ax.set_ylim(0, 100)
ax.set_yticks(range(0, 101, 10))
ax.set_xticks(range(4), stack_groups)
ax.tick_params(axis='x', length=0, pad=7, labelsize=15.5, labelcolor='#333333')
ax.tick_params(axis='y', labelsize=17, labelcolor='#333333', color='#777777', width=1.5, length=5)
for lab in ax.get_xticklabels() + ax.get_yticklabels():
    lab.set_family(SANS)
for name in ['top', 'right', 'left']:
    ax.spines[name].set_visible(False)
ax.spines['bottom'].set_color('#CFCFCF')
ax.spines['bottom'].set_linewidth(3)
ov.text(1322, 310, 'Relative Abundance (%)', family=SANS, fontsize=19, color='#444444', ha='center', va='center', rotation=90)
for name, col, y in zip(genera, genus_colors, [120, 153, 185, 217, 250, 282, 313, 346, 377, 409, 441]):
    ov.add_patch(Rectangle((2139, y - 11.5), 23, 23, facecolor=col, edgecolor='none'))
    ov.text(2170, y, name, family=SANS, style='italic', fontsize=18.2, color='#333333', va='center')


def lefse_legend(columns, text_xs, swatch_xs, swatch_w, y0, step, size):
    for (names, flags), tx, sx in zip(columns, text_xs, swatch_xs):
        for i, (name, flag) in enumerate(zip(names, flags)):
            y = y0 + i * step
            ov.add_patch(Rectangle((sx, y - step * 0.47), swatch_w, step * 0.94,
                                   facecolor='#313E96' if flag == 'b' else '#F00010', edgecolor='none'))
            ov.text(tx, y, name, family=SERIF, style='italic', fontsize=size, color='#333333', va='center')


def group_key(x_b, x_n, x_r, x_m, y, name_b, name_r, sw, h, size):
    ov.add_patch(Rectangle((x_b, y - h / 2), sw, h, facecolor='#313E96', edgecolor='none'))
    ov.text(x_n, y, name_b, family=SERIF, fontsize=size, color='#444444', va='center')
    ov.add_patch(Rectangle((x_r, y - h / 2), sw, h, facecolor='#F00010', edgecolor='none'))
    ov.text(x_m, y, name_r, family=SERIF, fontsize=size, color='#444444', va='center')


def cladogram(cx, cy, radius, levels, shades, nodes, leaves, labels, sizes, lab_size):
    ax = px_axes(cx - radius, cy - radius, cx + radius, cy + radius)
    ax.set_xlim(-radius, radius)
    ax.set_ylim(-radius, radius)
    ax.axis('off')
    for th1, th2, r0, r1, col in shades:
        ax.add_patch(Wedge((0, 0), r1, th1, th2, width=r1 - r0, facecolor=col, edgecolor='none', zorder=1))
    pos = {'root': (0, 0)}
    all_nodes = list(nodes)
    for parent, thetas, col in leaves:
        all_nodes += [(None, parent, th, len(levels) - 1, col) for th in thetas]
    face = {'w': 'white', 'r': '#C4001C', 'b': '#2B377E'}
    ax.scatter([0], [0], s=(sizes[0] * 0.72) ** 2, facecolor='white', edgecolor='#777777', linewidths=1.1, zorder=4)
    for node_id, parent, th, lev, col in all_nodes:
        p_th, p_lev = pos[parent]
        r_par, r_child = levels[p_lev], levels[lev]
        arc = np.radians(np.linspace(p_th, th, 40))
        ax.plot(r_par * np.cos(arc), r_par * np.sin(arc), color='#8A8A8A', lw=1.1, zorder=2)
        t = np.radians(th)
        ax.plot([r_par * np.cos(t), r_child * np.cos(t)], [r_par * np.sin(t), r_child * np.sin(t)],
                color='#8A8A8A', lw=1.1, zorder=2)
        ax.scatter([r_child * np.cos(t)], [r_child * np.sin(t)], s=(sizes[lev] * 0.72) ** 2, facecolor=face[col],
                   edgecolor='#777777' if col == 'w' else 'none', linewidths=0.9, zorder=4)
        if node_id:
            pos[node_id] = (th, lev)
    r_lab = levels[-1] + 16
    for th, text in labels:
        t = np.radians(th)
        rot = th if np.cos(t) > 0 else th + 180
        ax.text(r_lab * np.cos(t), r_lab * np.sin(t), text, family=SERIF, fontsize=lab_size, color='#444444',
                rotation=rot, rotation_mode='anchor', ha='center', va='center', zorder=5)


# panel C
ov.text(561, 782, 'The current LDA threshold is 2.66', family='DejaVu Serif', fontsize=14.5, color='#444444', ha='center', va='center')
cladogram(558, 1166, 310, c_levels, c_shades, c_nodes, c_leaves, c_labels, [20, 17, 15, 12, 10, 8, 5], 10)
lefse_legend([(c_col1, c_flags1), (c_col2, c_flags2), (c_col3, c_flags3), (c_col4, c_flags4)],
             [987, 1411, 1737, 2156], [952, 1377, 1704, 2121], 23, 882.5, 24.9, 15.3)
group_key(2229, 2271, 2292, 2331, 723.5, 'N', 'M', 24, 22, 13)

# panel D
ov.text(436, 1581, 'The current LDA threshold is 2', family='DejaVu Serif', fontsize=10, color='#444444', ha='center', va='center')
cladogram(436, 1922, 275, d_levels, d_shades, d_nodes, d_leaves, d_labels, [15, 13, 12, 10, 8, 6, 4], 8)
lefse_legend([(d_col1, d_flags1), (d_col2, d_flags2)], [807, 1045], [783, 1022], 15, 1726, 17.1, 10.3)
group_key(1121, 1144, 1163, 1187, 1617, 'M', 'GAOS', 16, 16, 9.5)

# panel E
ov.text(1731, 1574, 'The current LDA threshold is 2', family='DejaVu Serif', fontsize=10, color='#444444', ha='center', va='center')
cladogram(1730, 1900, 275, e_levels, e_shades, e_nodes, e_leaves, e_labels, [15, 13, 12, 10, 8, 6, 4], 8)
lefse_legend([(e_col1, e_flags1), (e_col2, e_flags2), (e_col3, e_flags3)], [2088, 2388, 2650], [2063, 2365, 2626], 15, 1701, 17.4, 10.7)
group_key(2658, 2681, 2701, 2726, 1590, 'M', 'HAOS', 15, 15, 9.5)


def style_bar_axes(ax, yticks, fmt, cats, tick_family, tick_size, x_size):
    ax.set_yticks(yticks, [fmt % v for v in yticks])
    ax.set_xticks(range(3), cats)
    ax.tick_params(axis='y', length=8, width=2, pad=2, labelsize=tick_size)
    ax.tick_params(axis='x', length=10, width=2, pad=9, labelsize=x_size)
    for lab in ax.get_xticklabels() + ax.get_yticklabels():
        lab.set_family(tick_family)
        lab.set_weight('bold')
        lab.set_color('#222222')
    for name in ['top', 'right']:
        ax.spines[name].set_visible(False)
    for name in ['left', 'bottom']:
        ax.spines[name].set_linewidth(2.2)
        ax.spines[name].set_color('#222222')


def draw_bar(ax, i, cat, val, top, with_err=True):
    ax.bar(i, val, width=0.667, color=bar_colors[cat], linewidth=0, zorder=3)
    if with_err:
        ax.errorbar(i, val, yerr=[[0], [top - val]], ecolor=err_colors[cat], elinewidth=1.5,
                    capsize=10, capthick=1.5, fmt='none', zorder=2)


def draw_bars(ax, cats, vals, tops):
    for i, cat in enumerate(cats):
        if vals[i] > 0:
            draw_bar(ax, i, cat, vals[i], tops[i])


def sig_line(ax, x0, x1, y, label, label_y, col='#555555', lw=1.6, size=None):
    ax.plot([x0, x1], [y, y], color=col, lw=lw, clip_on=False, solid_capstyle='butt')
    if size is None:
        size = 20 if label == '*' else 18
    ax.text((x0 + x1) / 2 - 0.03, label_y, label, family=SERIF, fontsize=size, color='#555555', ha='center', va='center', clip_on=False)


def bar_panel(spine_x, right, top, bottom, x0, step, title, title_x, title_y, cats, vals, tops, yticks, fmt,
              sigs, yl_x, yl_y, tick_family=SERIF, tick_size=17.5, x_size=18):
    ax = px_axes(spine_x, top, right, bottom)
    draw_bars(ax, cats, vals, tops)
    ax.set_xlim((spine_x - x0) / step, (right - x0) / step)
    ax.set_ylim(0, yticks[-1])
    style_bar_axes(ax, yticks, fmt, cats, tick_family, tick_size, x_size)
    for s in sigs:
        sig_line(ax, *s)
    ov.text(title_x, title_y, title, family=SERIF, weight='bold', fontsize=21.5, color='#222222', ha='center', va='center')
    ov.text(yl_x, yl_y, 'Relative Abundance (%)', family=SERIF, weight='bold', fontsize=18, color='#333333',
            ha='center', va='center', rotation=90)
    return ax


bar_panel(311, 810, 2426, 2788, 411, 149.5, 'Clostridium_sensu_stricto_1', 560, 2375, cats_g, f1_vals, f1_tops,
          [0.0, 0.1, 0.2, 0.3, 0.4], '%.1f', [(0, 1, 0.327, '#', 0.34), (1, 2, 0.3137, '*', 0.322)], 236, 2608)
bar_panel(1158, 1659, 2426, 2788, 1257, 150, 'Olsenella', 1407, 2375, cats_g, f2_vals, f2_tops,
          [0.0, 0.001, 0.002, 0.003], '%.3f', [(0, 1, 0.00274, '#', 0.00284, '#888888', 2.2), (1, 2, 0.002636, '0.0825', 0.00275, '#888888', 2.4, 17)], 1058, 2608)
bar_panel(2034, 2534, 2419, 2788, 2134, 150, 'Parasutterella', 2284, 2369, cats_g, f3_vals, f3_tops,
          [0.0, 0.05, 0.10, 0.15, 0.20], '%.2f', [(0, 1, 0.2017, '##', 0.2085), (1, 2, 0.1954, '*', 0.2)], 1946, 2605)
bar_panel(375, 874, 2906, 3268, 475, 149.5, 'Clostridium_sensu_stricto_1', 624, 2854, cats_h, f4_vals, f4_tops,
          [0.0, 0.1, 0.2, 0.3, 0.4], '%.1f', [(0, 1, 0.3272, '#', 0.34, '#A0A0A0', 2.6), (1, 2, 0.3144, '*', 0.323, '#A0A0A0', 2.6)], 301, 3089)
bar_panel(1158, 1659, 2905, 3267, 1257, 150, 'Olsenella', 1407, 2850, cats_h, f5_vals, f5_tops,
          [0.0, 0.001, 0.002, 0.003], '%.3f', [(0, 1, 0.00273, '#', 0.00283), (1, 2, 0.002636, '0.0552', 0.00275, '#666666', 1.8, 17)], 1045, 3082,
          tick_family=SANS, tick_size=19, x_size=19)

# F6 has a broken y axis
ax_hi = px_axes(2099, 2905, 2600, 3073)
ax_lo = px_axes(2099, 3100, 2600, 3268)
draw_bar(ax_hi, 0, 'N', f6_vals[0], f6_tops[0])
draw_bar(ax_lo, 0, 'N', f6_vals[0], f6_tops[0], with_err=False)
draw_bar(ax_lo, 1, 'M', f6_vals[1], f6_tops[1])
draw_bar(ax_lo, 2, 'GAOS', f6_vals[2], f6_tops[2])
for a in (ax_hi, ax_lo):
    a.set_xlim((2099 - 2198) / 150, (2600 - 2198) / 150)
ax_lo.set_ylim(0, 0.0003)
ax_hi.set_ylim(0.004, 0.008)
style_bar_axes(ax_lo, [0.0, 0.0001, 0.0002, 0.0003], '%.4f', cats_g, SERIF, 17.5, 18)
style_bar_axes(ax_hi, [0.004, 0.006, 0.008], '%.3f', cats_g, SERIF, 17.5, 18)
ax_hi.spines['bottom'].set_visible(False)
ax_hi.tick_params(axis='x', length=0, labelbottom=False)
sig_line(ax_hi, 0.02, 1.08, 0.00752, '*', 0.00768)
sig_line(ax_lo, 1.02, 2.05, 0.000337, '0.1804', 0.000357, '#999999', 2.4, 17)
ov.text(2348, 2854, 'Ruminococcaceae_NK4A214_group', family=SERIF, weight='bold', fontsize=21.5, color='#222222', ha='center', va='center')
ov.text(1986, 3089, 'Relative Abundance (%)', family=SERIF, weight='bold', fontsize=18, color='#333333', ha='center', va='center', rotation=90)

fig.savefig('out.png', dpi=100, facecolor='white')
